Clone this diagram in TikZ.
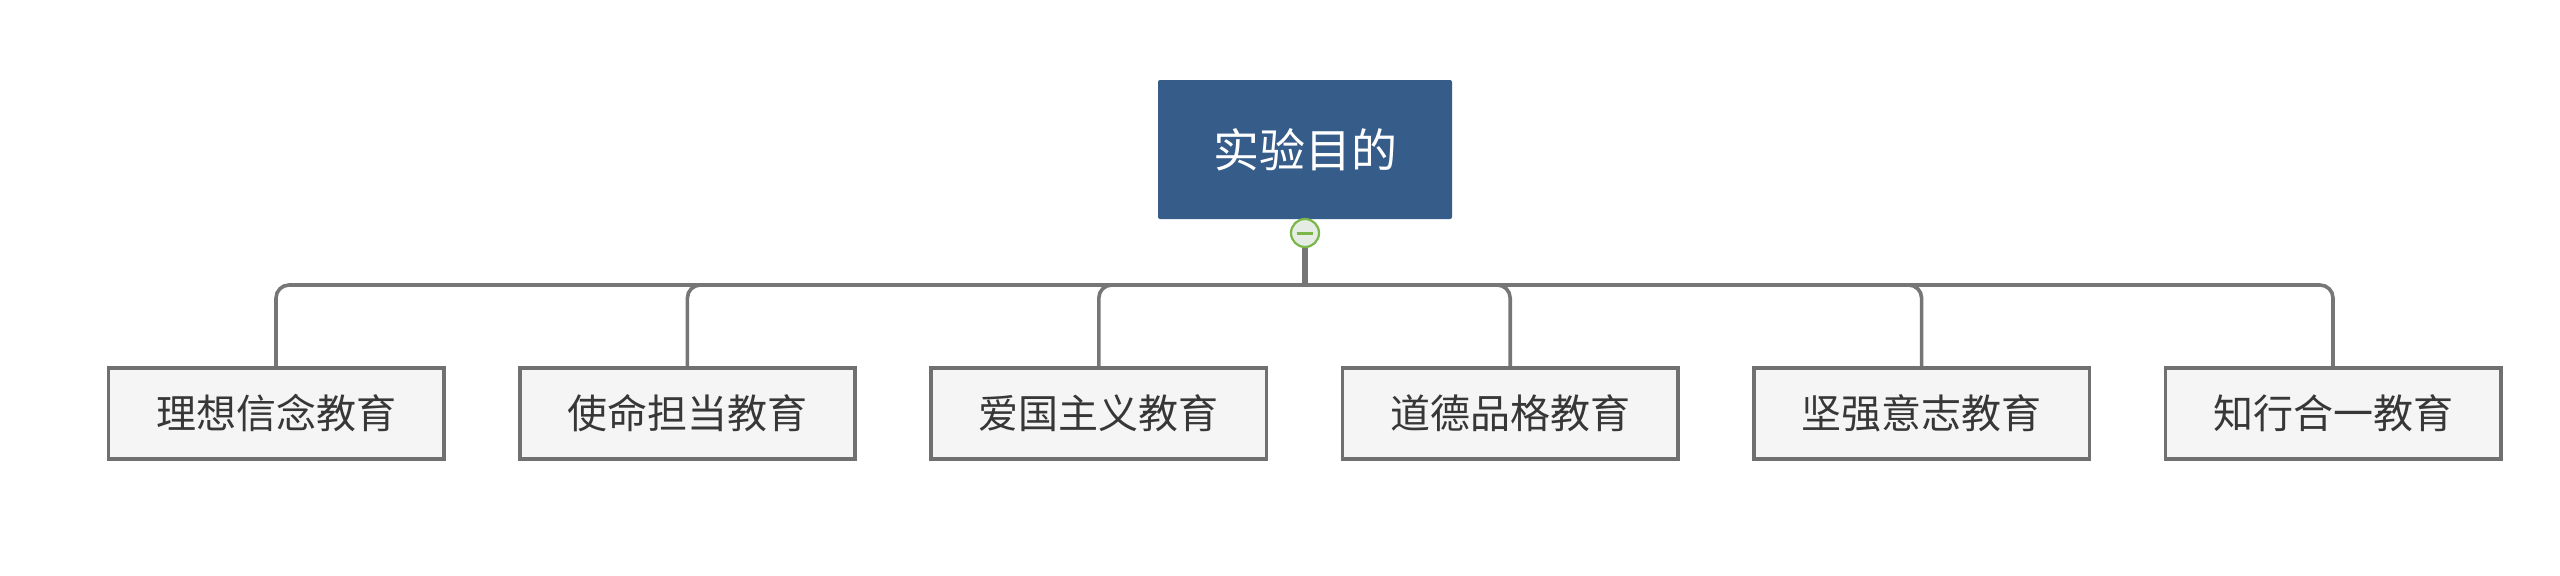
\documentclass[tikz,border=0pt]{standalone}
\usepackage{fontspec}
\newfontfamily\cjk{Noto Sans CJK SC}
\usetikzlibrary{positioning}
\definecolor{topblue}{RGB}{54,92,138}
\definecolor{boxfill}{RGB}{245,245,245}
\definecolor{boxgray}{RGB}{112,112,112}
\definecolor{linkgray}{RGB}{118,118,118}
\definecolor{textgray}{RGB}{55,55,55}
\definecolor{foldgreen}{RGB}{122,182,72}
\definecolor{foldfill}{RGB}{228,236,228}
\tikzset{
  topbox/.style={fill=topblue, rounded corners=1pt, text=white, inner sep=0pt,
    minimum width=147pt, minimum height=69.5pt,
    font=\cjk\fontsize{23pt}{23pt}\selectfont},
  childbox/.style={draw=boxgray, line width=1.8pt, fill=boxfill, text=textgray,
    inner sep=0pt, minimum width=167.7pt, minimum height=45.7pt,
    font=\cjk\fontsize{20pt}{20pt}\selectfont},
  link/.style={draw=linkgray, line width=1.8pt, rounded corners=6.5pt},
  foldmark/.style={circle, draw=foldgreen, line width=1.1pt, fill=foldfill,
    minimum size=14pt, inner sep=0pt}
}
\newcommand{\foldminus}[1]{
  \draw[foldgreen, line width=1.5pt] ([xshift=-4.2pt]#1.center) -- ([xshift=4.2pt]#1.center);
}

\begin{document}
\begin{tikzpicture}[x=0.5pt,y=-0.5pt]
\useasboundingbox (0,0) rectangle (2560,575);
\node[topbox] (goal) at (1305,149.5) {实验目的};
\coordinate (hub) at (1305,285);
% children along the bus
\foreach \lbl [count=\i] in {理想信念教育,使命担当教育,爱国主义教育,道德品格教育,坚强意志教育,知行合一教育} {
  \pgfmathsetmacro{\x}{276+411.4*(\i-1)}
  \node[childbox] (c\i) at (\x,413.5) {\lbl};
  \draw[link] (hub) -| (c\i.north);
}
\node[foldmark] (fold) at (1305,233) {};
\draw[linkgray, line width=2.6pt] (fold.south) -- (hub);
\foldminus{fold}
\end{tikzpicture}
\end{document}
